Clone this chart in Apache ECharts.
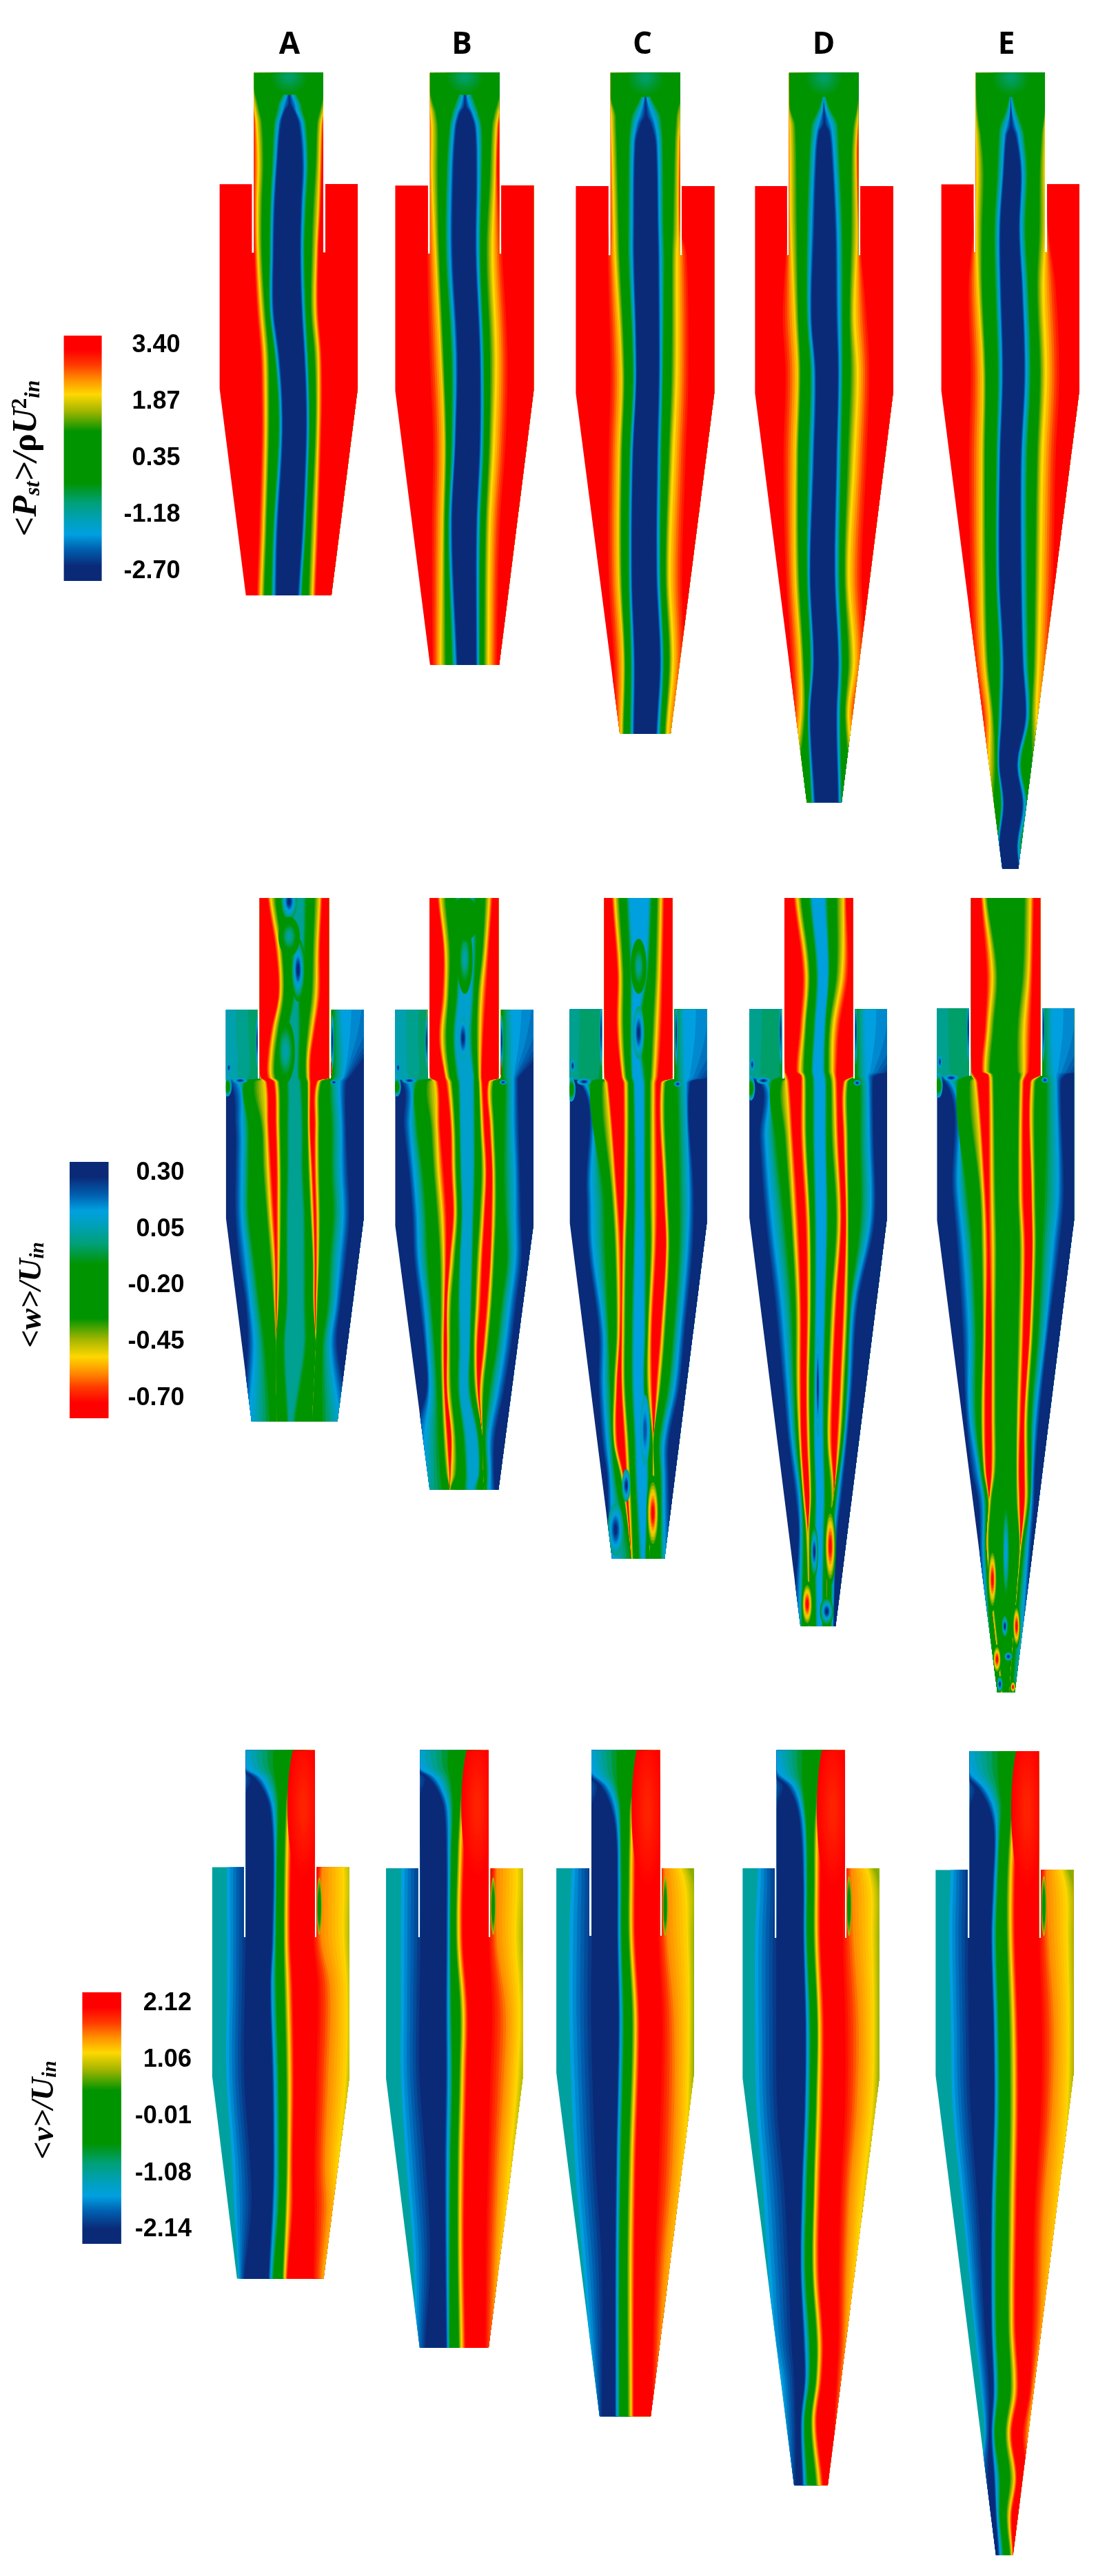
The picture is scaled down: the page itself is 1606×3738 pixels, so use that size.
<!DOCTYPE html>
<html>
<head>
<meta charset="utf-8">
<title>Cyclone contours</title>
<script src="https://cdn.jsdelivr.net/npm/echarts@6/dist/echarts.min.js"></script>
<style>
    html, body { margin: 0; background: #fff; }
    #chart { width: 1606px; height: 3738px; }
</style>
</head>
<body>
<div id="chart"></div>
<script>
// column names
const columns = ['A', 'B', 'C', 'D', 'E'];

// colour bar tick values
const pressureTicks = [3.40, 1.87, 0.35, -1.18, -2.70];
const axialTicks = [0.30, 0.05, -0.20, -0.45, -0.70];
const swirlTicks = [2.12, 1.06, -0.01, -1.08, -2.14];

// values at both ends of each bar: [red end, navy end]
const pressureRange = [3.66, -2.96];
const axialRange = [-0.79, 0.35];
const swirlRange = [2.33, -2.41];

// colour ramp, position 0 is the red end
const rampStops = [0, 0.06, 0.12, 0.18, 0.24, 0.31, 0.39, 0.6, 0.68, 0.76, 0.81, 0.87, 0.94, 1];
const rampColors = ['#ff0000', '#ff0000', '#ff3a00', '#ff9000', '#ffd800', '#9fb400', '#009400', '#009400', '#00a078', '#00a0c0', '#00a0e0', '#0060b0', '#0a2a78', '#0a2a78'];

// contour levels, left to right across one panel
const pressureLevels = [3.26, 2.07, 1.08, -0.31, -1.70, -2.56, -2.56, -1.70, -0.31, 1.08, 2.07, 3.26];
const swirlLevels = [-1.51, -2.13, -2.13, -1.51, -0.51, 0.48, 1.19, 2.05, 2.05, 1.48, 1.19, 0.8];
const swirlBase = -1.1;
const axialCentres = [0.02, 0.1, 0.13, 0.13, -0.25];

// outline of each panel: inner tube left, right, top, body left, right, top, slot bottom, cylinder bottom, cone left, right, bottom
const pressureShapes = [
    [716, 911, 165, 619, 1008, 417, 572, 880, 693, 934, 1348],
    [1212, 1407, 165, 1114, 1504, 420, 575, 885, 1212, 1407, 1505],
    [161, 356, 127, 63, 453, 324, 445, 685, 187, 330, 1278],
    [664, 859, 127, 568, 957, 324, 445, 685, 714, 812, 1397],
    [1190, 1385, 127, 1093, 1482, 321, 440, 680, 1265, 1310, 1513]
];
const axialShapes = [
    [732, 927, 83, 637, 1025, 336, 492, 808, 709, 951, 1268],
    [1211, 1405, 83, 1114, 1503, 336, 492, 825, 1211, 1405, 1422],
    [143, 335, 66, 46, 432, 268, 395, 655, 165, 313, 1263],
    [651, 844, 66, 552, 940, 268, 393, 645, 696, 795, 1385],
    [1177, 1372, 66, 1081, 1467, 266, 388, 650, 1251, 1300, 1505]
];
const swirlShapes = [
    [693, 887, 62, 598, 985, 327, 485, 800, 668, 912, 1258],
    [1184, 1377, 62, 1088, 1473, 329, 485, 805, 1183, 1377, 1415],
    [107, 300, 50, 8, 396, 266, 390, 640, 130, 274, 1268],
    [629, 821, 50, 533, 918, 266, 393, 650, 678, 773, 1394],
    [1173, 1368, 52, 1077, 1465, 269, 393, 645, 1247, 1295, 1522]
];

// contour tables, each row: station, then one position per level
const pressureA = [
    [165, 700, 706, 712, 815, 815, 815, 815, 815, 815, 918, 924, 930],
    [190, 702, 708, 714, 811, 815, 815, 815, 815, 819, 916, 922, 928],
    [210, 704, 710, 718, 798, 811, 815, 815, 819, 832, 912, 918, 924],
    [235, 708, 714, 726, 782, 798, 814, 816, 832, 848, 905, 916, 922],
    [250, 710, 717, 730, 778, 795, 803, 827, 835, 852, 900, 912, 918],
    [280, 714, 722, 738, 770, 784, 792, 840, 850, 862, 892, 904, 912],
    [370, 712, 727, 742, 765, 776, 782, 850, 858, 868, 888, 900, 908],
    [470, 713, 724, 738, 760, 768, 775, 846, 853, 862, 880, 896, 904],
    [572, 715, 726, 738, 758, 766, 772, 844, 850, 858, 876, 890, 898],
    [700, 722, 735, 747, 758, 765, 772, 848, 854, 862, 874, 887, 897],
    [800, 732, 745, 757, 772, 780, 787, 855, 861, 868, 884, 896, 906],
    [900, 735, 748, 759, 782, 790, 796, 860, 866, 872, 888, 897, 908],
    [1000, 735, 748, 758, 783, 791, 797, 860, 866, 872, 886, 895, 905],
    [1200, 728, 742, 751, 768, 776, 783, 850, 856, 862, 874, 887, 897],
    [1348, 722, 735, 745, 763, 772, 779, 838, 845, 851, 868, 880, 890]
];
const pressureB = [
    [165, 1194, 1200, 1206, 1310, 1310, 1310, 1310, 1310, 1310, 1414, 1420, 1426],
    [190, 1196, 1202, 1208, 1306, 1310, 1310, 1310, 1310, 1314, 1412, 1418, 1424],
    [210, 1198, 1204, 1212, 1293, 1306, 1310, 1310, 1314, 1327, 1408, 1414, 1420],
    [240, 1204, 1210, 1222, 1278, 1296, 1309, 1311, 1324, 1342, 1398, 1410, 1416],
    [255, 1206, 1213, 1228, 1272, 1288, 1297, 1323, 1332, 1348, 1392, 1405, 1412],
    [290, 1208, 1216, 1234, 1264, 1278, 1286, 1336, 1344, 1358, 1384, 1398, 1406],
    [400, 1206, 1216, 1234, 1256, 1270, 1278, 1340, 1347, 1358, 1378, 1394, 1402],
    [575, 1200, 1226, 1238, 1254, 1268, 1276, 1338, 1345, 1354, 1368, 1386, 1415],
    [800, 1205, 1240, 1250, 1270, 1282, 1290, 1350, 1356, 1364, 1378, 1396, 1430],
    [1000, 1215, 1250, 1258, 1270, 1280, 1285, 1350, 1356, 1364, 1376, 1390, 1425],
    [1200, 1212, 1245, 1254, 1262, 1269, 1275, 1340, 1346, 1354, 1366, 1378, 1408],
    [1505, 1215, 1240, 1256, 1272, 1283, 1290, 1340, 1346, 1352, 1362, 1375, 1400]
];
const pressureC = [
    [127, 148, 154, 160, 259, 259, 259, 259, 259, 259, 358, 364, 370],
    [150, 149, 155, 161, 255, 259, 259, 259, 259, 263, 357, 363, 369],
    [172, 150, 156, 162, 242, 255, 259, 259, 263, 276, 356, 362, 368],
    [200, 155, 161, 175, 218, 240, 258, 260, 278, 300, 345, 358, 364],
    [215, 155, 162, 176, 214, 232, 246, 272, 286, 304, 343, 356, 362],
    [250, 156, 164, 178, 210, 224, 232, 286, 294, 308, 340, 352, 358],
    [400, 155, 170, 184, 208, 221, 228, 292, 298, 310, 334, 350, 358],
    [445, 150, 172, 186, 208, 221, 228, 293, 300, 312, 332, 346, 375],
    [650, 155, 190, 200, 222, 230, 235, 295, 301, 309, 330, 345, 380],
    [800, 150, 183, 193, 212, 220, 225, 290, 296, 304, 322, 335, 372],
    [1000, 150, 182, 192, 210, 217, 222, 288, 294, 302, 314, 325, 362],
    [1150, 165, 195, 202, 216, 224, 230, 298, 304, 311, 324, 335, 365],
    [1278, 170, 190, 198, 214, 222, 228, 288, 294, 302, 312, 320, 345]
];
const pressureD = [
    [127, 652, 658, 664, 762, 762, 762, 762, 762, 762, 860, 866, 872],
    [165, 653, 659, 665, 758, 762, 762, 762, 762, 766, 858, 864, 870],
    [190, 654, 660, 667, 745, 758, 762, 762, 766, 779, 854, 860, 866],
    [215, 656, 664, 680, 725, 745, 761, 763, 780, 800, 845, 856, 862],
    [230, 656, 665, 682, 722, 740, 749, 775, 785, 802, 842, 854, 860],
    [270, 656, 666, 684, 718, 734, 742, 782, 790, 805, 838, 852, 858],
    [400, 656, 668, 686, 712, 726, 735, 792, 800, 814, 836, 855, 862],
    [550, 640, 678, 690, 712, 722, 728, 795, 803, 815, 832, 846, 882],
    [650, 648, 686, 696, 722, 733, 740, 800, 806, 815, 834, 855, 890],
    [800, 642, 680, 690, 715, 728, 735, 795, 801, 811, 826, 845, 882],
    [1000, 650, 680, 692, 712, 720, 725, 790, 796, 806, 818, 830, 868],
    [1150, 665, 695, 705, 722, 730, 735, 800, 806, 814, 828, 845, 875],
    [1250, 670, 695, 708, 716, 720, 725, 795, 801, 809, 820, 830, 850],
    [1397, 640, 660, 680, 725, 731, 738, 800, 806, 812, 840, 860, 880]
];
const pressureE = [
    [127, 1179, 1185, 1191, 1289, 1289, 1289, 1289, 1289, 1289, 1387, 1393, 1399],
    [165, 1180, 1186, 1192, 1285, 1289, 1289, 1289, 1289, 1293, 1386, 1392, 1398],
    [195, 1181, 1187, 1195, 1272, 1285, 1289, 1289, 1293, 1306, 1383, 1389, 1395],
    [220, 1183, 1189, 1200, 1255, 1275, 1288, 1290, 1303, 1320, 1378, 1385, 1391],
    [235, 1183, 1190, 1204, 1252, 1270, 1278, 1300, 1310, 1326, 1374, 1385, 1391],
    [300, 1184, 1192, 1212, 1248, 1264, 1270, 1315, 1321, 1335, 1368, 1384, 1390],
    [400, 1182, 1190, 1208, 1240, 1254, 1260, 1310, 1316, 1330, 1366, 1386, 1394],
    [500, 1165, 1195, 1208, 1243, 1256, 1262, 1318, 1324, 1338, 1360, 1378, 1415],
    [650, 1170, 1208, 1218, 1250, 1262, 1268, 1325, 1331, 1345, 1368, 1385, 1425],
    [800, 1165, 1205, 1216, 1246, 1255, 1260, 1315, 1321, 1335, 1360, 1375, 1415],
    [1000, 1170, 1205, 1218, 1245, 1253, 1258, 1315, 1321, 1335, 1355, 1370, 1408],
    [1150, 1180, 1212, 1224, 1255, 1264, 1270, 1320, 1326, 1338, 1352, 1365, 1398],
    [1250, 1205, 1228, 1240, 1252, 1260, 1265, 1328, 1334, 1342, 1345, 1360, 1385],
    [1330, 1205, 1225, 1245, 1250, 1254, 1258, 1305, 1310, 1318, 1345, 1370, 1385],
    [1400, 1200, 1220, 1240, 1260, 1265, 1270, 1320, 1326, 1335, 1350, 1380, 1400],
    [1470, 1200, 1220, 1240, 1250, 1254, 1258, 1305, 1310, 1318, 1345, 1370, 1400],
    [1513, 1200, 1220, 1240, 1255, 1260, 1265, 1310, 1314, 1320, 1345, 1370, 1400]
];

const axialA = [
    [83, 500, 560, 770, 771, 726, 730, 753, 762, 776, 790, 808, 852, 870, 884, 900, 908, 932, 933, 934, 935, 960, 1150],
    [200, 500, 560, 770, 771, 726, 730, 775, 785, 795, 808, 825, 850, 865, 880, 893, 902, 932, 933, 934, 935, 960, 1150],
    [300, 500, 560, 770, 771, 726, 730, 783, 790, 800, 820, 832, 838, 850, 876, 890, 902, 932, 933, 934, 935, 960, 1150],
    [380, 500, 560, 770, 771, 726, 730, 763, 772, 785, 800, 815, 835, 855, 865, 878, 888, 932, 933, 934, 935, 965, 1100],
    [440, 500, 570, 770, 771, 726, 730, 752, 763, 775, 790, 805, 835, 850, 860, 868, 877, 932, 933, 934, 935, 970, 1030],
    [488, 520, 580, 760, 771, 730, 736, 752, 763, 775, 790, 805, 835, 850, 860, 868, 875, 932, 933, 934, 935, 965, 985],
    [500, 640, 668, 690, 712, 745, 753, 770, 778, 787, 800, 815, 840, 855, 865, 870, 876, 890, 897, 905, 925, 955, 975],
    [600, 660, 680, 700, 735, 750, 758, 775, 782, 790, 800, 815, 845, 860, 866, 870, 875, 885, 892, 900, 930, 960, 975],
    [700, 660, 680, 700, 740, 755, 765, 778, 785, 792, 800, 815, 845, 860, 868, 875, 881, 885, 892, 900, 930, 960, 980],
    [800, 660, 680, 700, 750, 762, 772, 778, 785, 792, 800, 812, 850, 866, 874, 880, 886, 888, 895, 902, 935, 965, 985],
    [900, 670, 692, 715, 760, 772, 777, 778, 785, 790, 800, 812, 850, 868, 880, 885, 888, 889, 895, 900, 925, 955, 975],
    [1000, 690, 705, 730, 770, 775, 778, 779, 782, 786, 800, 812, 850, 868, 882, 885, 888, 889, 892, 895, 920, 945, 960],
    [1100, 695, 715, 745, 778, 778, 778, 778, 778, 778, 790, 805, 850, 870, 890, 890, 890, 890, 890, 890, 905, 930, 950],
    [1268, 680, 700, 760, 780, 780, 780, 780, 780, 780, 800, 815, 820, 840, 880, 880, 880, 880, 880, 880, 900, 955, 990]
];
const axialB = [
    [83, 980, 1040, 1250, 1251, 1204, 1208, 1232, 1240, 1255, 1275, 1295, 1325, 1345, 1365, 1378, 1388, 1410, 1411, 1412, 1413, 1440, 1630],
    [200, 980, 1040, 1250, 1251, 1204, 1208, 1248, 1255, 1268, 1285, 1300, 1330, 1345, 1358, 1368, 1378, 1410, 1411, 1412, 1413, 1440, 1630],
    [300, 980, 1040, 1250, 1251, 1204, 1208, 1245, 1255, 1265, 1280, 1295, 1325, 1340, 1345, 1356, 1370, 1410, 1411, 1412, 1413, 1440, 1630],
    [400, 980, 1040, 1250, 1251, 1204, 1208, 1235, 1245, 1258, 1270, 1285, 1318, 1335, 1342, 1352, 1362, 1410, 1411, 1412, 1413, 1445, 1560],
    [488, 1000, 1060, 1240, 1251, 1208, 1214, 1252, 1258, 1268, 1280, 1295, 1330, 1340, 1346, 1352, 1358, 1410, 1411, 1412, 1413, 1445, 1462],
    [500, 1128, 1150, 1175, 1200, 1225, 1235, 1255, 1265, 1274, 1285, 1298, 1330, 1340, 1348, 1353, 1360, 1374, 1380, 1390, 1420, 1445, 1460],
    [600, 1135, 1155, 1175, 1212, 1230, 1240, 1268, 1275, 1283, 1290, 1300, 1330, 1342, 1352, 1358, 1366, 1378, 1385, 1393, 1418, 1445, 1462],
    [700, 1150, 1165, 1190, 1220, 1235, 1250, 1270, 1278, 1286, 1293, 1302, 1330, 1342, 1355, 1365, 1372, 1385, 1390, 1398, 1415, 1450, 1465],
    [800, 1160, 1175, 1200, 1230, 1245, 1258, 1275, 1282, 1290, 1296, 1305, 1328, 1338, 1350, 1360, 1367, 1383, 1390, 1398, 1420, 1450, 1468],
    [900, 1165, 1180, 1205, 1238, 1250, 1258, 1265, 1272, 1282, 1290, 1300, 1325, 1335, 1342, 1352, 1360, 1380, 1385, 1393, 1425, 1450, 1470],
    [1000, 1180, 1195, 1215, 1240, 1250, 1254, 1258, 1262, 1272, 1285, 1298, 1322, 1332, 1338, 1345, 1355, 1370, 1378, 1386, 1410, 1435, 1455],
    [1100, 1195, 1205, 1225, 1240, 1248, 1252, 1258, 1262, 1270, 1285, 1300, 1320, 1328, 1333, 1340, 1346, 1360, 1367, 1375, 1395, 1420, 1440],
    [1200, 1200, 1210, 1232, 1243, 1250, 1254, 1258, 1262, 1272, 1285, 1298, 1315, 1330, 1337, 1344, 1348, 1350, 1355, 1363, 1375, 1400, 1420],
    [1300, 1160, 1195, 1235, 1248, 1256, 1262, 1270, 1274, 1284, 1298, 1315, 1340, 1352, 1360, 1360, 1360, 1360, 1360, 1360, 1365, 1378, 1395],
    [1385, 1160, 1190, 1240, 1256, 1264, 1268, 1268, 1272, 1285, 1305, 1320, 1345, 1355, 1362, 1362, 1362, 1362, 1362, 1362, 1370, 1380, 1392],
    [1422, 1150, 1180, 1245, 1268, 1268, 1268, 1268, 1268, 1270, 1300, 1320, 1330, 1350, 1365, 1365, 1365, 1365, 1365, 1365, 1368, 1378, 1395]
];
const axialC = [
    [66, -220, -160, 190, 191, 136, 140, 163, 172, 185, 200, 215, 265, 280, 290, 302, 312, 338, 339, 340, 341, 368, 560],
    [200, -220, -160, 190, 191, 136, 140, 178, 187, 197, 210, 225, 255, 270, 285, 297, 308, 338, 339, 340, 341, 368, 560],
    [300, -220, -160, 190, 191, 136, 140, 176, 186, 197, 212, 222, 232, 250, 278, 290, 304, 338, 339, 340, 341, 368, 560],
    [390, -200, -140, 180, 191, 138, 146, 190, 196, 205, 215, 225, 245, 262, 272, 283, 295, 338, 339, 340, 341, 372, 440],
    [402, 72, 85, 105, 135, 148, 155, 195, 203, 212, 220, 230, 250, 262, 270, 280, 290, 300, 306, 315, 345, 372, 385],
    [600, 90, 105, 140, 162, 172, 180, 195, 202, 210, 222, 235, 250, 262, 270, 280, 293, 308, 315, 322, 350, 380, 395],
    [700, 95, 110, 145, 172, 180, 190, 192, 198, 205, 220, 232, 250, 265, 272, 280, 290, 315, 320, 327, 350, 375, 392],
    [850, 125, 140, 155, 176, 183, 189, 190, 195, 202, 215, 228, 252, 262, 264, 270, 278, 300, 307, 315, 335, 355, 370],
    [950, 125, 140, 160, 168, 175, 180, 190, 195, 202, 215, 228, 250, 258, 262, 270, 278, 288, 295, 302, 320, 340, 355],
    [1050, 135, 150, 165, 168, 172, 180, 198, 205, 212, 222, 235, 258, 268, 278, 282, 282, 282, 282, 282, 295, 310, 325],
    [1120, 150, 160, 175, 190, 195, 200, 205, 210, 217, 225, 238, 260, 270, 280, 280, 280, 280, 280, 285, 300, 310, 325],
    [1263, 150, 165, 215, 220, 220, 220, 220, 220, 225, 235, 250, 255, 262, 270, 270, 270, 270, 270, 270, 300, 312, 330]
];
const axialD = [
    [66, 300, 360, 700, 701, 644, 648, 675, 686, 698, 715, 730, 760, 775, 795, 816, 825, 847, 848, 849, 850, 878, 1060],
    [200, 300, 360, 700, 701, 644, 648, 700, 712, 722, 735, 748, 770, 780, 795, 812, 830, 847, 848, 849, 850, 878, 1060],
    [300, 300, 360, 700, 701, 644, 648, 692, 704, 712, 728, 740, 760, 770, 775, 788, 806, 847, 848, 849, 850, 878, 1060],
    [380, 300, 370, 690, 701, 648, 654, 682, 694, 706, 722, 733, 756, 768, 772, 785, 798, 847, 848, 849, 850, 882, 945],
    [388, 320, 380, 690, 701, 650, 660, 696, 702, 710, 725, 735, 760, 770, 776, 788, 798, 847, 848, 849, 850, 882, 905],
    [400, 575, 592, 615, 640, 655, 665, 696, 704, 712, 725, 738, 762, 772, 780, 790, 800, 815, 822, 830, 860, 885, 900],
    [500, 578, 597, 625, 650, 665, 675, 695, 705, 713, 726, 738, 762, 772, 782, 795, 803, 815, 822, 830, 860, 888, 902],
    [650, 595, 615, 650, 668, 678, 690, 708, 718, 724, 732, 742, 765, 775, 795, 805, 812, 822, 827, 832, 860, 890, 905],
    [800, 622, 642, 670, 680, 690, 698, 712, 720, 726, 732, 742, 760, 770, 780, 790, 798, 815, 822, 830, 835, 845, 858],
    [950, 645, 660, 678, 682, 690, 698, 710, 716, 722, 730, 738, 755, 765, 772, 780, 788, 805, 812, 820, 825, 832, 842],
    [1050, 660, 672, 685, 690, 695, 700, 712, 718, 724, 730, 738, 755, 765, 770, 776, 785, 797, 804, 810, 815, 820, 828],
    [1150, 680, 692, 700, 702, 705, 710, 720, 723, 727, 735, 742, 758, 768, 780, 790, 790, 790, 790, 790, 795, 802, 812],
    [1220, 690, 696, 705, 710, 716, 718, 718, 718, 722, 730, 742, 755, 765, 775, 775, 775, 775, 775, 775, 785, 792, 800],
    [1385, 670, 692, 700, 720, 720, 720, 720, 720, 722, 735, 745, 755, 760, 770, 770, 770, 770, 770, 770, 780, 788, 790]
];
const axialE = [
    [66, 830, 890, 1225, 1226, 1170, 1174, 1203, 1212, 1222, 1250, 1260, 1290, 1300, 1325, 1343, 1354, 1375, 1376, 1377, 1378, 1405, 1590],
    [200, 830, 890, 1225, 1226, 1170, 1174, 1218, 1235, 1250, 1262, 1270, 1290, 1305, 1320, 1338, 1350, 1375, 1376, 1377, 1378, 1405, 1590],
    [300, 830, 890, 1225, 1226, 1170, 1174, 1214, 1225, 1240, 1255, 1265, 1290, 1300, 1305, 1325, 1345, 1375, 1376, 1377, 1378, 1405, 1590],
    [380, 830, 900, 1225, 1226, 1174, 1180, 1205, 1216, 1230, 1245, 1255, 1285, 1296, 1305, 1325, 1340, 1375, 1376, 1377, 1378, 1410, 1480],
    [386, 850, 910, 1225, 1226, 1176, 1184, 1222, 1228, 1238, 1250, 1260, 1285, 1300, 1312, 1325, 1335, 1375, 1376, 1377, 1378, 1412, 1445],
    [400, 1100, 1118, 1140, 1170, 1188, 1196, 1224, 1232, 1240, 1250, 1260, 1290, 1302, 1310, 1318, 1326, 1342, 1348, 1358, 1385, 1415, 1430],
    [600, 1122, 1140, 1165, 1200, 1210, 1218, 1225, 1235, 1245, 1258, 1268, 1290, 1300, 1308, 1315, 1325, 1345, 1350, 1358, 1378, 1420, 1438],
    [700, 1135, 1155, 1180, 1205, 1215, 1224, 1226, 1238, 1248, 1262, 1270, 1290, 1300, 1312, 1322, 1330, 1348, 1352, 1360, 1372, 1405, 1425],
    [850, 1150, 1170, 1190, 1208, 1215, 1220, 1232, 1238, 1246, 1262, 1270, 1288, 1298, 1308, 1318, 1325, 1340, 1345, 1352, 1362, 1385, 1395],
    [1000, 1160, 1172, 1190, 1204, 1210, 1218, 1232, 1238, 1246, 1262, 1270, 1288, 1296, 1304, 1310, 1318, 1325, 1330, 1338, 1345, 1358, 1370],
    [1100, 1175, 1195, 1205, 1210, 1215, 1220, 1232, 1238, 1246, 1262, 1270, 1285, 1295, 1303, 1308, 1313, 1325, 1330, 1338, 1345, 1350, 1358],
    [1160, 1195, 1210, 1218, 1224, 1228, 1228, 1228, 1228, 1234, 1250, 1262, 1285, 1295, 1304, 1310, 1315, 1325, 1330, 1338, 1342, 1346, 1355],
    [1250, 1200, 1210, 1218, 1222, 1222, 1222, 1222, 1222, 1228, 1245, 1258, 1288, 1298, 1312, 1315, 1315, 1315, 1315, 1318, 1322, 1335, 1345],
    [1505, 1200, 1230, 1240, 1262, 1262, 1262, 1262, 1262, 1266, 1270, 1275, 1278, 1280, 1285, 1285, 1285, 1285, 1285, 1285, 1290, 1310, 1320]
];

const swirlA = [
    [62, 670, 671, 672, 673, 770, 830, 872, 884, 900, 905, 910, 915],
    [100, 670, 671, 672, 690, 770, 825, 842, 860, 895, 905, 915, 925],
    [125, 660, 705, 715, 735, 775, 818, 825, 838, 895, 905, 915, 925],
    [160, 650, 692, 745, 758, 782, 808, 816, 830, 895, 905, 915, 925],
    [200, 645, 685, 760, 770, 784, 804, 812, 824, 895, 905, 915, 925],
    [300, 640, 692, 768, 775, 781, 800, 808, 820, 895, 908, 960, 990],
    [485, 640, 692, 765, 772, 778, 798, 806, 818, 880, 905, 965, 990],
    [600, 640, 690, 760, 766, 778, 800, 810, 824, 890, 930, 975, 992],
    [800, 638, 688, 766, 773, 785, 805, 815, 828, 885, 925, 972, 990],
    [1000, 655, 705, 768, 775, 787, 806, 813, 825, 880, 915, 950, 975],
    [1100, 660, 708, 765, 772, 785, 803, 810, 825, 880, 920, 950, 970],
    [1258, 672, 688, 755, 762, 770, 795, 802, 810, 880, 905, 920, 930]
];
const swirlB = [
    [62, 1160, 1161, 1162, 1163, 1262, 1320, 1360, 1372, 1390, 1395, 1400, 1405],
    [100, 1160, 1161, 1162, 1180, 1262, 1316, 1335, 1350, 1385, 1395, 1405, 1415],
    [125, 1150, 1196, 1206, 1226, 1268, 1305, 1318, 1330, 1385, 1395, 1405, 1415],
    [160, 1142, 1185, 1236, 1250, 1274, 1298, 1310, 1322, 1385, 1395, 1405, 1415],
    [200, 1136, 1178, 1250, 1262, 1276, 1294, 1303, 1315, 1385, 1395, 1405, 1415],
    [300, 1132, 1185, 1256, 1264, 1272, 1288, 1296, 1308, 1385, 1400, 1450, 1480],
    [490, 1130, 1185, 1256, 1263, 1270, 1284, 1292, 1304, 1375, 1400, 1450, 1478],
    [650, 1130, 1182, 1255, 1262, 1272, 1295, 1305, 1318, 1380, 1425, 1462, 1484],
    [800, 1130, 1182, 1255, 1263, 1275, 1293, 1302, 1315, 1375, 1420, 1455, 1478],
    [1000, 1145, 1200, 1252, 1260, 1270, 1288, 1297, 1310, 1370, 1405, 1435, 1455],
    [1200, 1165, 1212, 1253, 1260, 1268, 1288, 1296, 1308, 1365, 1395, 1415, 1428],
    [1415, 1170, 1198, 1256, 1262, 1267, 1292, 1300, 1312, 1365, 1385, 1400, 1410]
];
const swirlC = [
    [50, 88, 89, 90, 91, 178, 238, 278, 290, 310, 315, 320, 325],
    [90, 88, 89, 90, 108, 178, 234, 252, 268, 300, 310, 320, 330],
    [115, 78, 122, 130, 150, 180, 226, 236, 250, 300, 310, 320, 330],
    [150, 70, 108, 158, 172, 188, 214, 224, 236, 300, 310, 320, 330],
    [200, 60, 100, 174, 182, 190, 212, 220, 232, 300, 310, 320, 330],
    [290, 50, 108, 178, 184, 192, 210, 218, 230, 295, 315, 365, 395],
    [390, 45, 108, 178, 184, 192, 210, 218, 230, 292, 320, 375, 395],
    [550, 45, 106, 182, 188, 198, 220, 230, 242, 300, 340, 380, 395],
    [800, 60, 118, 175, 181, 190, 210, 220, 232, 290, 335, 368, 390],
    [1000, 85, 136, 172, 178, 186, 206, 216, 228, 280, 310, 340, 355],
    [1268, 118, 136, 172, 178, 186, 208, 218, 226, 275, 290, 300, 310]
];
const swirlD = [
    [50, 612, 613, 614, 615, 700, 755, 800, 812, 830, 835, 840, 845],
    [90, 612, 613, 614, 632, 700, 752, 775, 790, 825, 835, 845, 855],
    [115, 600, 645, 655, 675, 702, 742, 760, 772, 825, 835, 845, 855],
    [150, 590, 630, 682, 695, 708, 738, 748, 760, 825, 835, 845, 855],
    [200, 580, 622, 695, 705, 714, 733, 742, 754, 825, 835, 845, 855],
    [290, 575, 630, 702, 708, 716, 733, 740, 752, 815, 840, 890, 915],
    [393, 568, 628, 702, 708, 715, 732, 740, 752, 810, 845, 895, 918],
    [550, 568, 628, 708, 714, 724, 742, 748, 762, 815, 860, 900, 918],
    [700, 572, 630, 706, 712, 722, 738, 745, 760, 815, 855, 895, 915],
    [850, 590, 650, 698, 704, 714, 732, 738, 752, 805, 835, 870, 895],
    [1000, 605, 662, 695, 700, 710, 728, 735, 748, 800, 825, 850, 865],
    [1130, 620, 670, 703, 710, 722, 740, 748, 760, 800, 820, 835, 845],
    [1200, 640, 678, 706, 712, 722, 738, 745, 756, 795, 812, 822, 830],
    [1280, 650, 682, 695, 701, 708, 724, 732, 742, 790, 800, 810, 815],
    [1394, 660, 682, 700, 706, 716, 738, 748, 760, 785, 790, 795, 800]
];
const swirlE = [
    [52, 1150, 1151, 1152, 1153, 1252, 1310, 1350, 1362, 1385, 1390, 1395, 1400],
    [90, 1150, 1151, 1152, 1172, 1252, 1306, 1328, 1342, 1378, 1388, 1398, 1408],
    [120, 1142, 1186, 1195, 1215, 1256, 1298, 1310, 1322, 1378, 1388, 1398, 1408],
    [155, 1132, 1172, 1225, 1240, 1262, 1292, 1300, 1312, 1378, 1388, 1398, 1408],
    [200, 1125, 1165, 1240, 1248, 1258, 1284, 1293, 1305, 1378, 1388, 1398, 1408],
    [300, 1118, 1170, 1236, 1243, 1252, 1276, 1287, 1300, 1370, 1390, 1440, 1465],
    [393, 1115, 1168, 1232, 1238, 1248, 1276, 1287, 1300, 1365, 1395, 1445, 1467],
    [550, 1120, 1170, 1238, 1244, 1254, 1282, 1295, 1308, 1370, 1410, 1450, 1468],
    [700, 1125, 1175, 1240, 1246, 1256, 1284, 1297, 1310, 1368, 1405, 1445, 1465],
    [900, 1155, 1198, 1232, 1238, 1248, 1280, 1292, 1305, 1350, 1380, 1420, 1440],
    [1100, 1185, 1215, 1232, 1238, 1248, 1280, 1290, 1302, 1345, 1370, 1385, 1400],
    [1220, 1205, 1228, 1238, 1244, 1254, 1286, 1298, 1310, 1340, 1350, 1362, 1370],
    [1300, 1215, 1228, 1232, 1238, 1244, 1272, 1282, 1292, 1320, 1335, 1345, 1350],
    [1380, 1200, 1225, 1240, 1246, 1258, 1284, 1298, 1306, 1330, 1335, 1340, 1345],
    [1450, 1200, 1230, 1245, 1250, 1258, 1275, 1284, 1292, 1306, 1312, 1316, 1320],
    [1522, 1200, 1235, 1252, 1258, 1268, 1285, 1292, 1296, 1300, 1304, 1308, 1312]
];

// closed spots, each: x, y, radius x, radius y, value at rim, value at middle
const pressureSpots = [
    [[815, 175, 55, 40, -0.31, -0.75]],
    [[1310, 175, 55, 40, -0.31, -0.75]],
    [[259, 135, 55, 34, -0.31, -0.75]],
    [[762, 135, 55, 34, -0.31, -0.75]],
    [[1289, 135, 55, 34, -0.31, -0.75]]
];
const axialSpots = [
    [[815, 90, 22, 42, -0.05, 0.28], [840, 245, 20, 72, -0.12, 0.28], [805, 430, 26, 72, -0.15, 0.05], [815, 170, 30, 45, -0.2, 0.03]],
    [[1305, 400, 14, 48, 0.05, 0.28], [1310, 220, 22, 80, -0.2, 0.05], [1310, 130, 40, 50, -0.25, -0.3]],
    [[240, 310, 16, 48, 0.0, 0.28], [240, 190, 22, 50, -0.2, 0.03], [258, 1030, 14, 64, 0.05, 0.22], [280, 1180, 18, 68, -0.3, -0.72], [175, 1210, 22, 48, 0.0, 0.28], [205, 1130, 12, 30, 0.0, 0.28]],
    [[745, 950, 6, 92, 0.05, 0.28], [735, 1250, 11, 46, -0.1, 0.28], [780, 1240, 16, 72, -0.3, -0.72], [715, 1345, 16, 42, -0.3, -0.72], [770, 1358, 19, 25, -0.1, 0.28]],
    [[1275, 1250, 14, 120, -0.25, 0.13], [1237, 1300, 13, 58, -0.3, -0.72], [1305, 1385, 11, 40, -0.3, -0.72], [1250, 1445, 12, 27, -0.3, -0.72], [1295, 1495, 8, 11, -0.3, -0.72], [1272, 1385, 9, 21, -0.1, 0.28], [1282, 1440, 13, 9, -0.1, 0.28], [1258, 1490, 9, 15, -0.1, 0.28]]
];
// same spots near the inlet in every axial panel, x from body left, y from slot bottom
const inletSpots = [
    [8, -25, 6, 12, 0.05, 0.28], [4, 18, 12, 22, 0.13, -0.3], [40, 4, 20, 6, 0.05, 0.28],
    [88, -85, 4, 60, 0.05, 0.28], [300, -85, 4, 60, 0.05, 0.28], [304, 8, 10, 5, 0.05, 0.28]
];
const swirlSpots = [
    [[855, 190, 45, 170, 2.05, 1.88], [900, 415, 7, 65, 0.9, 0.1]],
    [[1345, 190, 45, 170, 2.05, 1.88], [1390, 415, 7, 65, 0.9, 0.1]],
    [[265, 160, 45, 150, 2.05, 1.88], [315, 335, 7, 55, 0.9, 0.1]],
    [[787, 160, 45, 150, 2.05, 1.88], [833, 335, 7, 55, 0.9, 0.1]],
    [[1335, 160, 45, 150, 2.05, 1.88], [1382, 335, 7, 55, 0.9, 0.1]]
];

// picture sections: left, top, width, height. Panel data is read in a 0-1560 frame inside them
const sections = [
    [0, 0, 803, 1000], [803, 0, 803, 1300],
    [0, 1250, 803, 1000], [803, 1250, 803, 1250],
    [0, 2500, 803, 1000], [803, 2500, 803, 1238]
];
const frame = 1560;

function colorAt(value, range) {
    let f = (value - range[0]) / (range[1] - range[0]);
    f = Math.max(0, Math.min(1, f));
    let i = 0;
    while (i < rampStops.length - 2 && f > rampStops[i + 1]) i++;
    const t = (f - rampStops[i]) / (rampStops[i + 1] - rampStops[i]);
    return echarts.color.lerp(t, [rampColors[i], rampColors[i + 1]]);
}

// outline with the thin slots either side of the inner tube
function outlinePoints(s) {
    const slot = 6;
    return [
        [s[0], s[2]], [s[1], s[2]], [s[1], s[6]], [s[1] + slot, s[6]], [s[1] + slot, s[5]],
        [s[4], s[5]], [s[4], s[7]], [s[9], s[10]], [s[8], s[10]], [s[3], s[7]], [s[3], s[5]],
        [s[0] - slot, s[5]], [s[0] - slot, s[6]], [s[0], s[6]]
    ];
}

function contourPolygon(api, rows, col, nextCol, t, fill) {
    const far = 4000;
    const first = rows[0][0], last = rows[rows.length - 1][0];
    const at = r => r[col] + (r[nextCol] - r[col]) * t;
    const pts = [[at(rows[0]), first - 90], [at(rows[0]), first - 50]];
    rows.forEach(r => pts.push([at(r), r[0]]));
    pts.push([at(rows[rows.length - 1]), last + 50], [at(rows[rows.length - 1]), last + 90]);
    pts.push([far, last + 200], [far, first - 200]);
    return { type: 'polygon', shape: { points: pts.map(p => api.coord(p)), smooth: 0.35 }, style: { fill: fill } };
}

function panelRender(shape, rows, levels, base, spots, range) {
    return function (params, api) {
        const outline = outlinePoints(shape).map(p => api.coord(p));
        const a = api.coord([-1000, -1000]), b = api.coord([5000, 5000]);
        const children = [{
            type: 'rect',
            shape: { x: a[0], y: a[1], width: b[0] - a[0], height: b[1] - a[1] },
            style: { fill: colorAt(base, range) }
        }];
        levels.forEach((level, k) => {
            const col = k + 1;
            if (k === 0) {
                children.push(contourPolygon(api, rows, col, col, 0, colorAt(level, range)));
                return;
            }
            const steps = level === levels[k - 1] ? 1 : 6;
            for (let s = 1; s <= steps; s++) {
                const t = s / steps;
                const value = levels[k - 1] + (level - levels[k - 1]) * t;
                children.push(contourPolygon(api, rows, col - 1, col, t, colorAt(value, range)));
            }
        });
        spots.forEach(spot => {
            for (let s = 0; s < 10; s++) {
                const t = s / 9;
                const c = api.coord([spot[0], spot[1]]);
                const e = api.coord([spot[0] + spot[2], spot[1] + spot[3]]);
                children.push({
                    type: 'ellipse',
                    shape: { cx: c[0], cy: c[1], rx: (e[0] - c[0]) * (1 - 0.8 * t), ry: (e[1] - c[1]) * (1 - 0.8 * t) },
                    style: { fill: colorAt(spot[4] + (spot[5] - spot[4]) * t, range) }
                });
            }
        });
        return { type: 'group', clipPath: { type: 'polygon', shape: { points: outline } }, children: children };
    };
}

function panelSeries(sectionIndex, shape, rows, levels, base, spots, range) {
    return {
        type: 'custom',
        coordinateSystem: 'cartesian2d',
        xAxisIndex: sectionIndex,
        yAxisIndex: sectionIndex,
        clip: false,
        silent: true,
        data: [[0, 0]],
        renderItem: panelRender(shape, rows, levels, base, spots, range)
    };
}

const grids = [], xAxes = [], yAxes = [], series = [];
sections.forEach(s => {
    grids.push({ left: s[0], top: s[1], width: s[2], height: s[3] });
    xAxes.push({ type: 'value', gridIndex: grids.length - 1, min: 0, max: frame, show: false });
    yAxes.push({ type: 'value', gridIndex: grids.length - 1, min: 0, max: frame, inverse: true, show: false });
});

const sectionOfColumn = [0, 0, 1, 1, 1];
const pressureTables = [pressureA, pressureB, pressureC, pressureD, pressureE];
const axialTables = [axialA, axialB, axialC, axialD, axialE];
const swirlTables = [swirlA, swirlB, swirlC, swirlD, swirlE];

columns.forEach((name, i) => {
    series.push(panelSeries(sectionOfColumn[i], pressureShapes[i], pressureTables[i], pressureLevels, pressureLevels[0], pressureSpots[i], pressureRange));
    const c = axialCentres[i];
    const axialLevels = [0.28, 0.133, -0.106, -0.345, -0.516, -0.72, -0.72, -0.516, -0.345, -0.2, c, c, -0.2, -0.345, -0.516, -0.72, -0.72, -0.516, -0.345, -0.106, 0.133, 0.28];
    const shape = axialShapes[i];
    const inlet = inletSpots.map(p => [shape[3] + p[0], shape[6] + p[1], p[2], p[3], p[4], p[5]]);
    series.push(panelSeries(sectionOfColumn[i] + 2, shape, axialTables[i], axialLevels, 0.28, inlet.concat(axialSpots[i]), axialRange));
    series.push(panelSeries(sectionOfColumn[i] + 4, swirlShapes[i], swirlTables[i], swirlLevels, swirlBase, swirlSpots[i], swirlRange));
});

// colour bars: left, top, width, height, label margin
function addBar(box, ticks, range, margin) {
    const index = grids.length;
    grids.push({ left: box[0], top: box[1], width: box[2], height: box[3] });
    xAxes.push({ type: 'value', gridIndex: index, min: 0, max: 1, show: false });
    const top = Math.max(range[0], range[1]), bottom = Math.min(range[0], range[1]);
    yAxes.push({
        type: 'value', gridIndex: index, position: 'right', min: bottom, max: top,
        axisLine: { show: false }, axisTick: { show: false }, splitLine: { show: false },
        axisLabel: {
            show: true, customValues: ticks, margin: margin, align: 'right',
            fontFamily: 'Liberation Sans', fontWeight: 'bold', fontSize: 36, color: '#000',
            formatter: v => v.toFixed(2)
        }
    });
    const redOnTop = range[0] > range[1];
    const stops = rampStops.map((p, i) => ({ offset: redOnTop ? p : 1 - p, color: rampColors[i] }));
    stops.sort((a, b) => a.offset - b.offset);
    series.push({
        type: 'custom', coordinateSystem: 'cartesian2d', xAxisIndex: index, yAxisIndex: index,
        silent: true, data: [[0, 0]],
        renderItem: function (params, api) {
            const a = api.coord([0, top]), b = api.coord([1, bottom]);
            return {
                type: 'rect',
                shape: { x: a[0], y: a[1], width: b[0] - a[0], height: b[1] - a[1] },
                style: { fill: new echarts.graphic.LinearGradient(0, 0, 0, 1, stops) }
            };
        }
    });
}
addBar([92.6, 487, 55, 356], pressureTicks, pressureRange, 114);
addBar([101, 1686, 56.5, 372], axialTicks, axialRange, 110);
addBar([119.4, 2891, 56.5, 365], swirlTicks, swirlRange, 102);

const columnLabelX = [415, 665, 927, 1190, 1455];

function fieldTitle(x, y, size, text) {
    return {
        type: 'text', x: x, y: y, rotation: Math.PI / 2,
        style: {
            text: text, align: 'center', verticalAlign: 'middle', fill: '#000',
            font: 'italic bold ' + size + 'px "Liberation Serif"',
            rich: {
                m: { font: 'italic bold ' + size + 'px "Liberation Serif"', fill: '#000' },
                r: { font: 'bold ' + size + 'px "Liberation Serif"', fill: '#000' },
                sub: { font: 'italic bold ' + Math.round(size * 0.62) + 'px "Liberation Serif"', fill: '#000', verticalAlign: 'bottom' },
                sup: { font: 'bold ' + Math.round(size * 0.62) + 'px "Liberation Serif"', fill: '#000', verticalAlign: 'top' }
            }
        }
    };
}

const chart = echarts.init(document.getElementById('chart'), null, { renderer: 'canvas' });
chart.setOption({
    animation: false,
    backgroundColor: '#fff',
    title: columns.map((name, i) => ({
        text: name, left: columnLabelX[i], top: 38, textAlign: 'center',
        textStyle: { fontFamily: 'Open Sans', fontWeight: 'bold', fontSize: 44, color: '#000' }
    })),
    grid: grids,
    xAxis: xAxes,
    yAxis: yAxes,
    series: series,
    graphic: [
        fieldTitle(39, 665, 50, '{m|<P}{sub|st}{m|>/}{r|ρ}{m|U}{sup|2}{sub|in}'),
        fieldTitle(47, 1879, 46, '{m|<w>/U}{sub|in}'),
        fieldTitle(65, 3062, 46, '{m|<v>/U}{sub|in}')
    ]
});
</script>
</body>
</html>
